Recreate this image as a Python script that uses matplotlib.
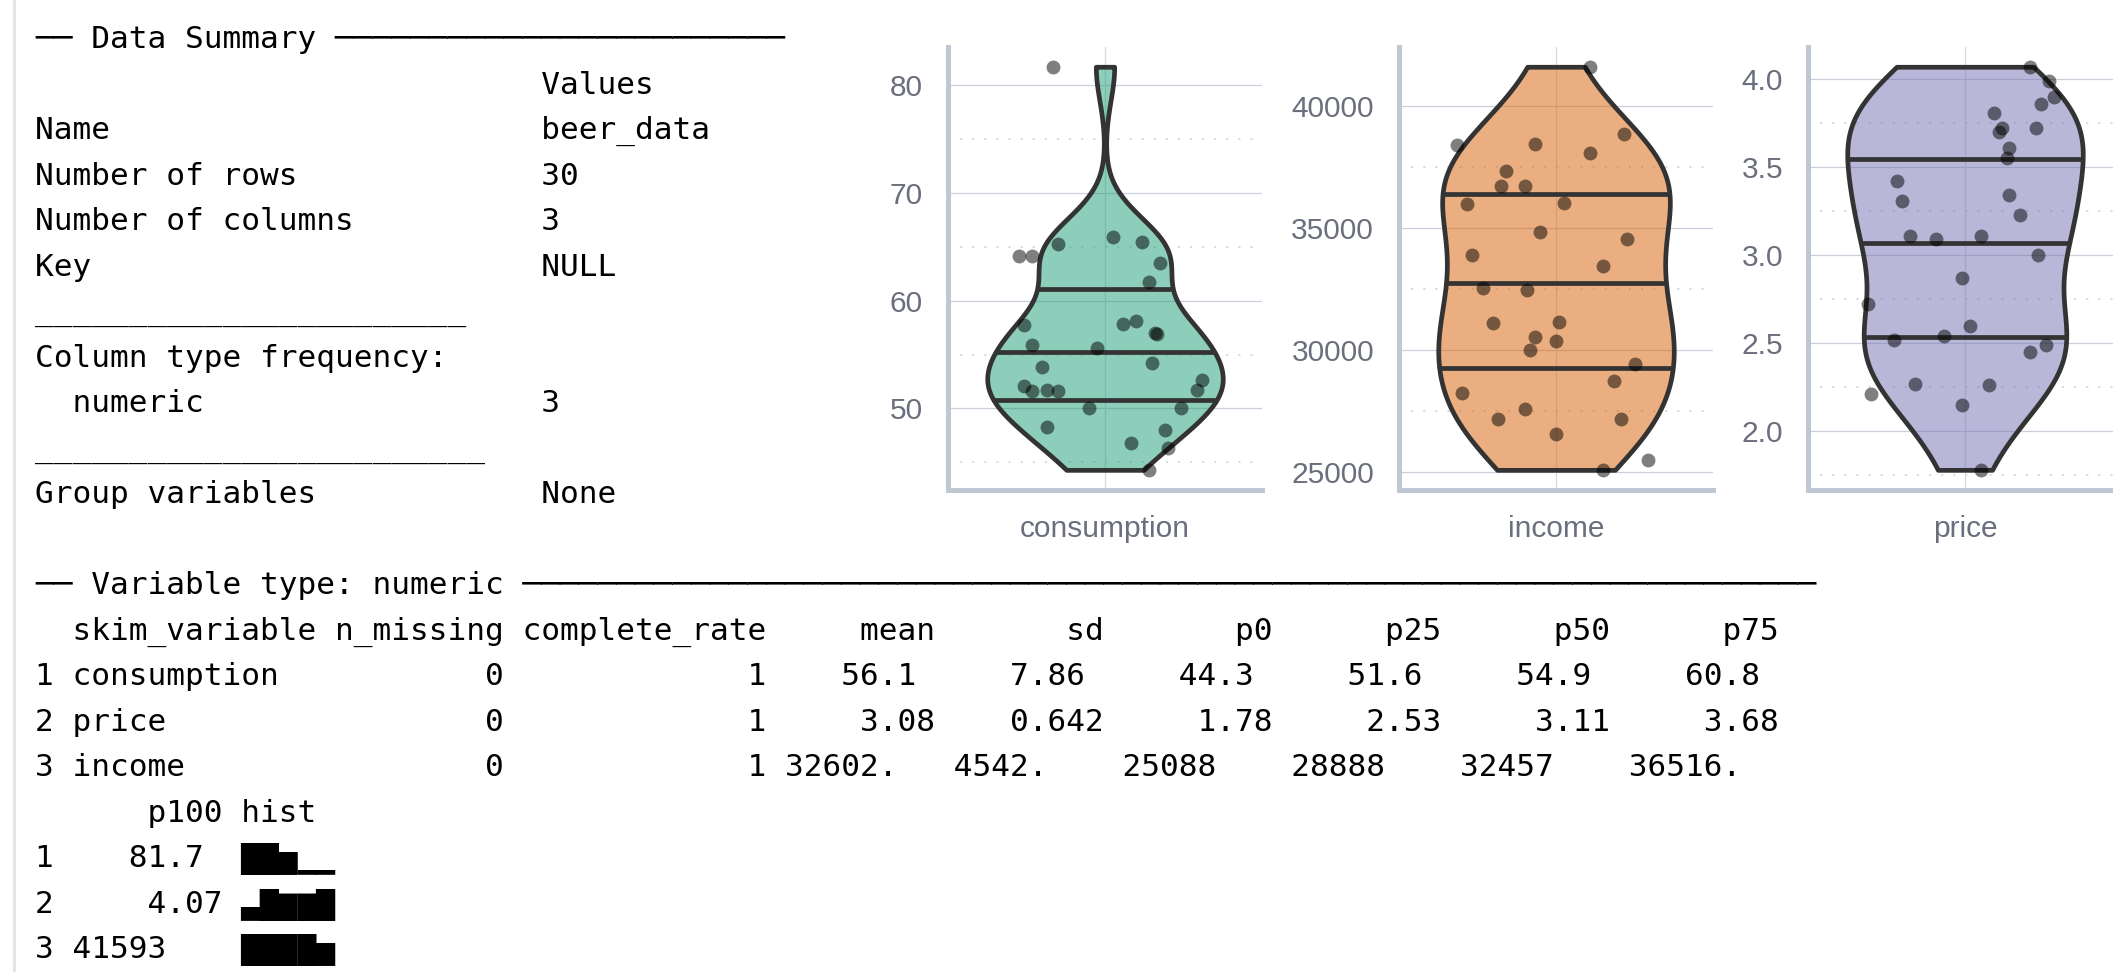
import numpy as np
import matplotlib.pyplot as plt
from matplotlib.colors import to_rgba

W, H = 2113, 972

# ---- skim() console output ----
data_name = "beer_data"
n_rows = "30"
n_cols = "3"
key_val = "NULL"
type_freq = "3"
group_vars = "None"

skim_variable = ["consumption", "price", "income"]
n_missing = ["0", "0", "0"]
complete_rate = ["1", "1", "1"]
mean_vals = ["56.1", "3.08", "32602."]
sd_vals = ["7.86", "0.642", "4542."]
p0_vals = ["44.3", "1.78", "25088"]
p25_vals = ["51.6", "2.53", "28888"]
p50_vals = ["54.9", "3.11", "32457"]
p75_vals = ["60.8", "3.68", "36516."]
p100_vals = ["81.7", "4.07", "41593"]
hist_vals = ["▇▇▅▁▁", "▃▇▆▆▇", "▇▇▇▇▅"]

# ---- beer_data (value, horizontal jitter) ----
consumption = [81.7, 64.1, 64.1, 65.3, 65.9, 65.4, 63.5, 61.7, 57.7, 57.8,
               58.1, 57.0, 56.9, 55.9, 55.6, 53.8, 54.2, 52.1, 51.6, 51.7,
               51.6, 52.6, 51.7, 50.0, 50.0, 48.3, 48.0, 46.8, 46.3, 44.3]
consumption_jit = [-0.20, -0.33, -0.28, -0.18, 0.03, 0.14, 0.21, 0.17, -0.31, 0.07,
                   0.12, 0.19, 0.20, -0.28, -0.03, -0.24, 0.18, -0.31, -0.28, -0.22,
                   -0.18, 0.37, 0.35, -0.06, 0.29, -0.22, 0.23, 0.10, 0.24, 0.17]

income = [41593, 38381, 38426, 38824, 38061, 37324, 36721, 36693, 35959, 36033,
          34811, 34537, 33902, 33430, 32537, 32434, 31111, 31139, 30525, 30377,
          30008, 29422, 28733, 28246, 27586, 27176, 27176, 26557, 25500, 25088]
income_jit = [0.13, -0.38, -0.08, 0.26, 0.13, -0.19, -0.21, -0.12, -0.34, 0.03,
              -0.06, 0.27, -0.32, 0.18, -0.28, -0.11, -0.24, 0.01, -0.08, 0.00,
              -0.10, 0.30, 0.22, -0.36, -0.12, -0.22, 0.25, 0.00, 0.35, 0.18]

price = [4.07, 3.99, 3.90, 3.86, 3.81, 3.72, 3.70, 3.72, 3.61, 3.55,
         3.42, 3.31, 3.34, 3.23, 3.11, 3.09, 3.11, 3.00, 2.87, 2.72,
         2.60, 2.52, 2.54, 2.49, 2.45, 2.27, 2.26, 2.21, 2.15, 1.78]
price_jit = [0.25, 0.32, 0.34, 0.29, 0.11, 0.14, 0.13, 0.27, 0.17, 0.16,
             -0.26, -0.24, 0.17, 0.21, -0.21, -0.11, 0.06, 0.28, -0.01, -0.37,
             0.02, -0.27, -0.08, 0.31, 0.25, -0.19, 0.09, -0.36, -0.01, 0.06]


def put(buf, s, start):
    for i, ch in enumerate(s):
        buf[start + i] = ch


def dec_start(s, dec):
    d = s.find('.')
    if d < 0:
        d = len(s)
    return dec - d


# (header, values, end column, decimal column)
stat_cols = [("mean", mean_vals, 48, 45), ("sd", sd_vals, 57, 53),
             ("p0", p0_vals, 66, 63), ("p25", p25_vals, 75, 72),
             ("p50", p50_vals, 84, 81), ("p75", p75_vals, 93, 90)]

lines = []
lines.append("── Data Summary " + "─" * 24)
lines.append(" " * 27 + "Values")
for lab, val in [("Name", data_name), ("Number of rows", n_rows),
                 ("Number of columns", n_cols), ("Key", key_val)]:
    lines.append(lab.ljust(27) + val)
lines.append("_" * 23)
lines.append("Column type frequency:")
lines.append("  numeric".ljust(27) + type_freq)
lines.append("_" * 24)
lines.append("Group variables".ljust(27) + group_vars)
lines.append("")
lines.append("── Variable type: numeric " + "─" * 69)

buf = [" "] * 93
put(buf, "skim_variable", 2)
put(buf, "n_missing", 16)
put(buf, "complete_rate", 26)
for name, vals, end, dec in stat_cols:
    put(buf, name, end - len(name))
lines.append("".join(buf))
for i in range(3):
    buf = [" "] * 93
    put(buf, f"{i + 1} {skim_variable[i]}", 0)
    put(buf, n_missing[i], 25 - len(n_missing[i]))
    put(buf, complete_rate[i], 39 - len(complete_rate[i]))
    for name, vals, end, dec in stat_cols:
        put(buf, vals[i], dec_start(vals[i], dec))
    lines.append("".join(buf).rstrip())
lines.append("      p100 hist")
for i in range(3):
    buf = [" "] * 16
    put(buf, str(i + 1), 0)
    put(buf, p100_vals[i], dec_start(p100_vals[i], 7))
    put(buf, hist_vals[i], 11)
    lines.append("".join(buf))

fig = plt.figure(figsize=(W / 100, H / 100), dpi=100)

tx = fig.add_axes([0, 0, 1, 1])
tx.set_xlim(0, W)
tx.set_ylim(H, 0)
tx.axis('off')
tx.plot([14, 14], [0, H], color='#e4e4e4', lw=2.2)
for i, line in enumerate(lines):
    tx.text(35, 48.3 + 45.5 * i, line, family='DejaVu Sans Mono', fontsize=22.46,
            va='baseline', ha='left', color='black')


def nrd0_factor(x):
    x = np.asarray(x, float)
    sd = x.std(ddof=1)
    iqr = np.subtract(*np.percentile(x, [75, 25]))
    lo = min(sd, iqr / 1.34)
    return 0.9 * lo * len(x) ** -0.2 / sd


panels = [
    ("consumption", consumption, consumption_jit, '#1b9e77', [50, 60, 70, 80], [45, 55, 65, 75], 948),
    ("income", income, income_jit, '#d95f02', [25000, 30000, 35000, 40000], [27500, 32500, 37500], 1399),
    ("price", price, price_jit, '#7570b3', [2.0, 2.5, 3.0, 3.5, 4.0], [1.75, 2.25, 2.75, 3.25, 3.75], 1808),
]

axis_col = '#bfc7d3'
grid_col = '#c9d0db'
label_col = '#6b6e7c'

for label, vals, jit, color, ticks, minor, left_px in panels:
    ax = fig.add_axes([left_px / W, (H - 490) / H, 314 / W, (490 - 46.6) / H])
    vals = np.asarray(vals, float)
    rng = vals.max() - vals.min()
    ax.set_ylim(vals.min() - 0.05 * rng, vals.max() + 0.05 * rng)
    ax.set_xlim(0.4, 1.6)

    for t in ticks:
        ax.axhline(t, color=grid_col, lw=0.9, zorder=0)
    for t in minor:
        ax.axhline(t, color='#d3d8e0', lw=1.3, ls=(0, (1.2, 5.5)), zorder=0)
    ax.axvline(1, color='#d5dae2', lw=0.9, zorder=0)

    parts = ax.violinplot([vals], positions=[1], widths=0.9, showextrema=False,
                          points=512, bw_method=nrd0_factor(vals))
    body = parts['bodies'][0]
    body.set_alpha(None)
    body.set_facecolor(to_rgba(color, 0.5))
    body.set_edgecolor('#333333')
    body.set_linewidth(3.4)
    body.set_zorder(2)

    # quantile lines as ggplot draws them (from the density)
    v = body.get_paths()[0].vertices
    right = v[v[:, 0] > 1 + 1e-9]
    ys, idx = np.unique(right[:, 1], return_index=True)
    hw = right[idx, 0] - 1
    cdf = np.cumsum(hw) / hw.sum()
    for q in [0.25, 0.5, 0.75]:
        yq = np.interp(q, cdf, ys)
        w = np.interp(yq, ys, hw)
        ax.plot([1 - w, 1 + w], [yq, yq], color='#333333', lw=3.4,
                solid_capstyle='butt', zorder=2.5)

    ax.scatter(1 + np.asarray(jit), vals, s=100, color='black', alpha=0.5,
               linewidths=0, zorder=3)

    ax.set_yticks(ticks)
    if label == "price":
        ax.set_yticklabels([f"{t:.1f}" for t in ticks])
    ax.set_xticks([1])
    ax.set_xticklabels([label])
    ax.tick_params(length=0, labelsize=21.5, labelcolor=label_col)
    ax.tick_params(axis='y', pad=18)
    ax.tick_params(axis='x', pad=18)
    for lab in ax.get_xticklabels() + ax.get_yticklabels():
        lab.set_family('Liberation Sans')
    for s in ['top', 'right']:
        ax.spines[s].set_visible(False)
    for s in ['left', 'bottom']:
        ax.spines[s].set_color(axis_col)
        ax.spines[s].set_linewidth(3.6)
    ax.patch.set_alpha(0)

fig.savefig("out.png", dpi=100)
